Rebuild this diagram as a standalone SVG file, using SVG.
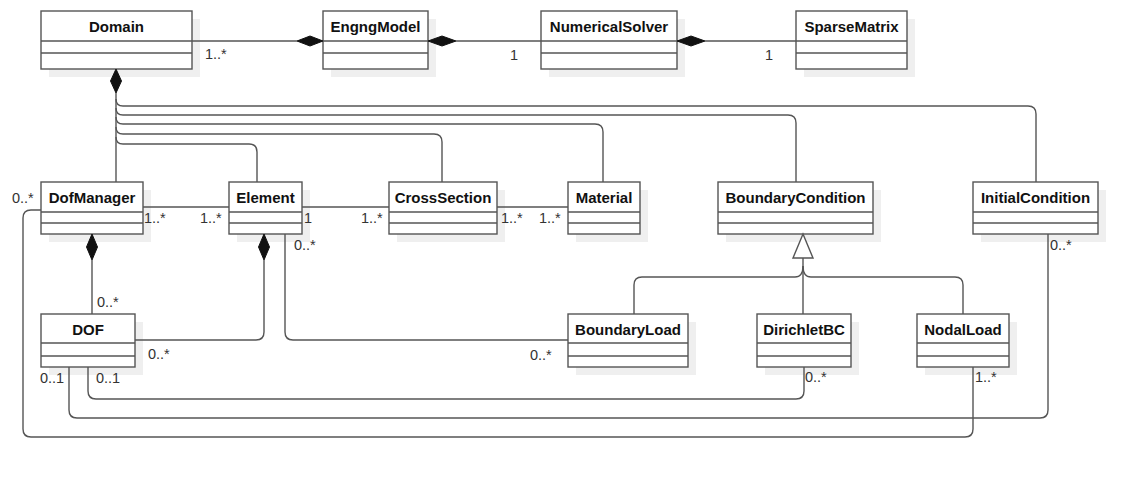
<svg xmlns="http://www.w3.org/2000/svg" width="1145" height="486" viewBox="0 0 1145 486">
<style>
.shadow{fill:#efefef;stroke:none}
.box{fill:#fff;stroke:#555;stroke-width:1.4}
.div{stroke:#555;stroke-width:1.4}
.name{font-family:"Liberation Sans",Arial,sans-serif;font-weight:bold;font-size:15px;fill:#111;text-anchor:middle}
.lbl{font-family:"Liberation Sans",Arial,sans-serif;font-size:14.5px;fill:#333}
.ln{fill:none;stroke:#555;stroke-width:1.4}
.dia{fill:#111;stroke:#111;stroke-width:1}
.tri{fill:#fff;stroke:#555;stroke-width:1.4}
</style>
<rect width="1145" height="486" fill="#fff"/>

<g id="Domain">
  <rect class="shadow" x="49" y="19" width="151" height="58"/>
  <rect class="box" x="41" y="11" width="151" height="58"/>
  <line class="div" x1="41" y1="41" x2="192" y2="41"/>
  <line class="div" x1="41" y1="53" x2="192" y2="53"/>
  <text class="name" x="116.5" y="32">Domain</text>
</g>
<g id="EngngModel">
  <rect class="shadow" x="331" y="19" width="105" height="58"/>
  <rect class="box" x="323" y="11" width="105" height="58"/>
  <line class="div" x1="323" y1="41" x2="428" y2="41"/>
  <line class="div" x1="323" y1="53" x2="428" y2="53"/>
  <text class="name" x="375.5" y="32">EngngModel</text>
</g>
<g id="NumericalSolver">
  <rect class="shadow" x="549" y="19" width="136" height="58"/>
  <rect class="box" x="541" y="11" width="136" height="58"/>
  <line class="div" x1="541" y1="41" x2="677" y2="41"/>
  <line class="div" x1="541" y1="53" x2="677" y2="53"/>
  <text class="name" x="609" y="32">NumericalSolver</text>
</g>
<g id="SparseMatrix">
  <rect class="shadow" x="804" y="19" width="111" height="58"/>
  <rect class="box" x="796" y="11" width="111" height="58"/>
  <line class="div" x1="796" y1="41" x2="907" y2="41"/>
  <line class="div" x1="796" y1="53" x2="907" y2="53"/>
  <text class="name" x="851.5" y="32">SparseMatrix</text>
</g>

<g id="DofManager">
  <rect class="shadow" x="49" y="190" width="102" height="52"/>
  <rect class="box" x="41" y="182" width="102" height="52"/>
  <line class="div" x1="41" y1="212" x2="143" y2="212"/>
  <line class="div" x1="41" y1="223" x2="143" y2="223"/>
  <text class="name" x="92" y="203">DofManager</text>
</g>
<g id="Element">
  <rect class="shadow" x="237" y="190" width="73" height="52"/>
  <rect class="box" x="229" y="182" width="73" height="52"/>
  <line class="div" x1="229" y1="212" x2="302" y2="212"/>
  <line class="div" x1="229" y1="223" x2="302" y2="223"/>
  <text class="name" x="265.5" y="203">Element</text>
</g>
<g id="CrossSection">
  <rect class="shadow" x="397" y="190" width="108" height="52"/>
  <rect class="box" x="389" y="182" width="108" height="52"/>
  <line class="div" x1="389" y1="212" x2="497" y2="212"/>
  <line class="div" x1="389" y1="223" x2="497" y2="223"/>
  <text class="name" x="443" y="203">CrossSection</text>
</g>
<g id="Material">
  <rect class="shadow" x="576" y="190" width="72" height="52"/>
  <rect class="box" x="568" y="182" width="72" height="52"/>
  <line class="div" x1="568" y1="212" x2="640" y2="212"/>
  <line class="div" x1="568" y1="223" x2="640" y2="223"/>
  <text class="name" x="604" y="203">Material</text>
</g>
<g id="BoundaryCondition">
  <rect class="shadow" x="726" y="190" width="155" height="52"/>
  <rect class="box" x="718" y="182" width="155" height="52"/>
  <line class="div" x1="718" y1="212" x2="873" y2="212"/>
  <line class="div" x1="718" y1="223" x2="873" y2="223"/>
  <text class="name" x="795.5" y="203">BoundaryCondition</text>
</g>
<g id="InitialCondition">
  <rect class="shadow" x="981" y="190" width="125" height="52"/>
  <rect class="box" x="973" y="182" width="125" height="52"/>
  <line class="div" x1="973" y1="212" x2="1098" y2="212"/>
  <line class="div" x1="973" y1="223" x2="1098" y2="223"/>
  <text class="name" x="1035.5" y="203">InitialCondition</text>
</g>

<g id="DOF">
  <rect class="shadow" x="49" y="322" width="94" height="53"/>
  <rect class="box" x="41" y="314" width="94" height="53"/>
  <line class="div" x1="41" y1="343" x2="135" y2="343"/>
  <line class="div" x1="41" y1="356" x2="135" y2="356"/>
  <text class="name" x="88" y="335">DOF</text>
</g>
<g id="BoundaryLoad">
  <rect class="shadow" x="576" y="322" width="120" height="53"/>
  <rect class="box" x="568" y="314" width="120" height="53"/>
  <line class="div" x1="568" y1="343" x2="688" y2="343"/>
  <line class="div" x1="568" y1="356" x2="688" y2="356"/>
  <text class="name" x="628" y="335">BoundaryLoad</text>
</g>
<g id="DirichletBC">
  <rect class="shadow" x="765" y="322" width="94" height="53"/>
  <rect class="box" x="757" y="314" width="94" height="53"/>
  <line class="div" x1="757" y1="343" x2="851" y2="343"/>
  <line class="div" x1="757" y1="356" x2="851" y2="356"/>
  <text class="name" x="804" y="335">DirichletBC</text>
</g>
<g id="NodalLoad">
  <rect class="shadow" x="925" y="322" width="92" height="53"/>
  <rect class="box" x="917" y="314" width="92" height="53"/>
  <line class="div" x1="917" y1="343" x2="1009" y2="343"/>
  <line class="div" x1="917" y1="356" x2="1009" y2="356"/>
  <text class="name" x="963" y="335">NodalLoad</text>
</g>

<g id="connectors">
  <line class="ln" x1="192" y1="41" x2="297" y2="41"/>
  <polygon class="dia" points="297,41 310,36 323,41 310,46"/>
  <line class="ln" x1="456" y1="41" x2="541" y2="41"/>
  <polygon class="dia" points="428,41 442,36 456,41 442,46"/>
  <line class="ln" x1="705" y1="41" x2="796" y2="41"/>
  <polygon class="dia" points="677,41 691,36 705,41 691,46"/>

  <polygon class="dia" points="116,69 121.5,81 116,93 110.5,81"/>
  <line class="ln" x1="116" y1="93" x2="116" y2="182"/>
  <path class="ln" d="M116,99 Q116,106 123,106 H1028 Q1036,106 1036,114 V182"/>
  <path class="ln" d="M116,108 Q116,115 123,115 H788 Q796,115 796,123 V182"/>
  <path class="ln" d="M116,117 Q116,124 123,124 H595 Q603,124 603,132 V182"/>
  <path class="ln" d="M116,127 Q116,134 123,134 H434 Q442,134 442,142 V182"/>
  <path class="ln" d="M116,137 Q116,144 123,144 H249 Q257,144 257,152 V182"/>

  <line class="ln" x1="143" y1="207" x2="229" y2="207"/>
  <line class="ln" x1="302" y1="207" x2="389" y2="207"/>
  <line class="ln" x1="497" y1="207" x2="568" y2="207"/>

  <path class="ln" d="M41,210 H31 Q23,210 23,218 V429 Q23,437 31,437 H965 Q973,437 973,429 V367"/>

  <polygon class="dia" points="92,234 97.5,247 92,260 86.5,247"/>
  <line class="ln" x1="92" y1="260" x2="92" y2="314"/>

  <polygon class="dia" points="264,234 269.5,247 264,260 258.5,247"/>
  <path class="ln" d="M264,260 V332 Q264,340 256,340 H135"/>

  <path class="ln" d="M285,234 V332 Q285,340 293,340 H568"/>

  <polygon class="tri" points="803,234 813,258 793,258"/>
  <line class="ln" x1="803" y1="258" x2="803" y2="314"/>
  <path class="ln" d="M803,266 Q803,277 795,277 H642 Q634,277 634,285 V314"/>
  <path class="ln" d="M803,266 Q803,277 811,277 H955 Q963,277 963,285 V314"/>

  <path class="ln" d="M88,367 V391 Q88,399 96,399 H796 Q804,399 804,391 V367"/>
  <path class="ln" d="M69,367 V410 Q69,418 77,418 H1040 Q1048,418 1048,410 V234"/>

  <text class="lbl" x="205" y="59">1..*</text>
  <text class="lbl" x="510" y="60">1</text>
  <text class="lbl" x="765" y="60">1</text>
  <text class="lbl" x="12" y="203">0..*</text>
  <text class="lbl" x="144" y="223">1..*</text>
  <text class="lbl" x="200" y="223">1..*</text>
  <text class="lbl" x="304" y="223">1</text>
  <text class="lbl" x="361" y="223">1..*</text>
  <text class="lbl" x="501" y="223">1..*</text>
  <text class="lbl" x="539" y="223">1..*</text>
  <text class="lbl" x="294" y="250">0..*</text>
  <text class="lbl" x="1050" y="250">0..*</text>
  <text class="lbl" x="97" y="307">0..*</text>
  <text class="lbl" x="148" y="359">0..*</text>
  <text class="lbl" x="530" y="360">0..*</text>
  <text class="lbl" x="40" y="383">0..1</text>
  <text class="lbl" x="96" y="383">0..1</text>
  <text class="lbl" x="805" y="382">0..*</text>
  <text class="lbl" x="975" y="382">1..*</text>
</g>
</svg>
